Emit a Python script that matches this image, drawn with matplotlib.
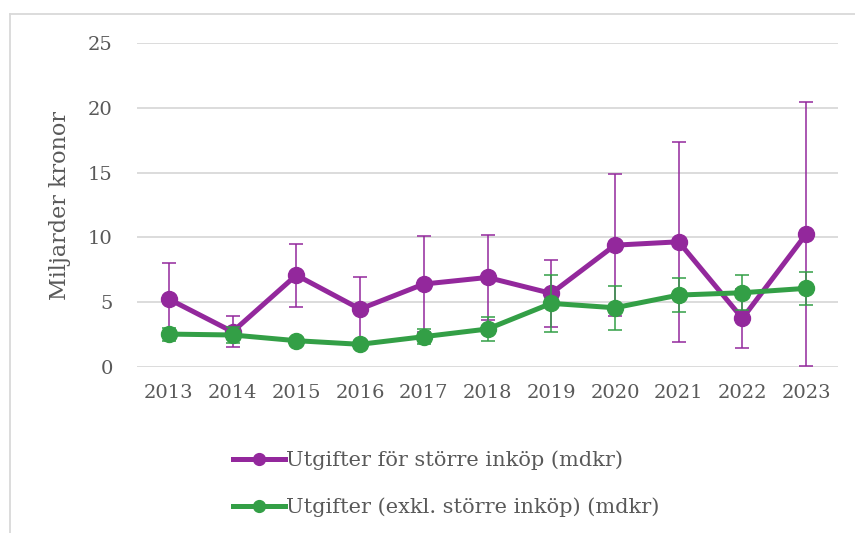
import matplotlib
matplotlib.use('Agg')
import matplotlib.pyplot as plt
from matplotlib.lines import Line2D
import numpy as np

years = ['2013', '2014', '2015', '2016', '2017', '2018',
         '2019', '2020', '2021', '2022', '2023']

# Utgifter för större inköp (mdkr) + felstaplar
large = [5.24, 2.72, 7.09, 4.47, 6.40, 6.91, 5.68, 9.40, 9.66, 3.75, 10.25]
large_err = [2.76, 1.20, 2.43, 2.50, 3.70, 3.30, 2.60, 5.50, 7.70, 2.30, 10.20]

# Utgifter (exkl. större inköp) (mdkr) + felstaplar
other = [2.54, 2.47, 2.03, 1.75, 2.34, 2.93, 4.91, 4.57, 5.55, 5.73, 6.07]
other_err = [0.50, 0.60, 0.00, 0.00, 0.60, 0.90, 2.20, 1.70, 1.30, 1.35, 1.25]

yticks = [0, 5, 10, 15, 20, 25]

purple = '#93289C'
green = '#339F46'
txt = '#595959'

plt.rcParams['font.family'] = ['DejaVu Serif']

fig = plt.figure(figsize=(8.55, 5.33), dpi=100)
W, H = 855, 533
ax = fig.add_axes([137 / W, 1 - 367 / H, (838 - 137) / W, (367 - 43) / H])

x = np.arange(len(years))
ax.errorbar(x, large, yerr=large_err, color=purple, lw=3.6, marker='o',
            ms=11.5, ecolor=purple, elinewidth=1.1, capsize=5, capthick=1.1,
            label='Utgifter för större inköp (mdkr)', zorder=3)
ax.errorbar(x, other, yerr=other_err, color=green, lw=3.6, marker='o',
            ms=11.5, ecolor=green, elinewidth=1.1, capsize=5, capthick=1.1,
            label='Utgifter (exkl. större inköp) (mdkr)', zorder=4)

ax.set_xlim(-0.5, len(years) - 0.5)
ax.set_ylim(0, 25)
ax.set_yticks(yticks)
ax.set_xticks(x)
ax.set_xticklabels(years)
ax.grid(axis='y', color='#D9D9D9', lw=1.3)
ax.set_axisbelow(True)
for s in ax.spines.values():
    s.set_visible(False)
ax.tick_params(axis='both', length=0, labelsize=14, colors=txt)
ax.tick_params(axis='y', pad=17.5)
ax.tick_params(axis='x', pad=12)
ax.set_ylabel('Miljarder kronor', fontsize=16, color=txt, va='center')
ax.yaxis.set_label_coords(-77 / (838 - 137), 0.5)

handles = [Line2D([], [], color=purple, lw=3.6, marker='o', ms=8.5),
           Line2D([], [], color=green, lw=3.6, marker='o', ms=8.5)]
labels = ['Utgifter för större inköp (mdkr)',
          'Utgifter (exkl. större inköp) (mdkr)']
fig.legend(handles, labels, loc='upper left', bbox_to_anchor=(214 / W, 1 - 432 / H),
           frameon=False, fontsize=15, labelcolor=txt, handlelength=2.5,
           handletextpad=0.05, labelspacing=1.3)

# ram runt diagrammet
fig.add_artist(Line2D([10 / W, 1], [1 - 14 / H, 1 - 14 / H], color='#D9D9D9',
                      lw=1.3, transform=fig.transFigure))
fig.add_artist(Line2D([10 / W, 10 / W], [0, 1 - 14 / H], color='#D9D9D9',
                      lw=1.3, transform=fig.transFigure))

fig.savefig('out.png', dpi=100)
